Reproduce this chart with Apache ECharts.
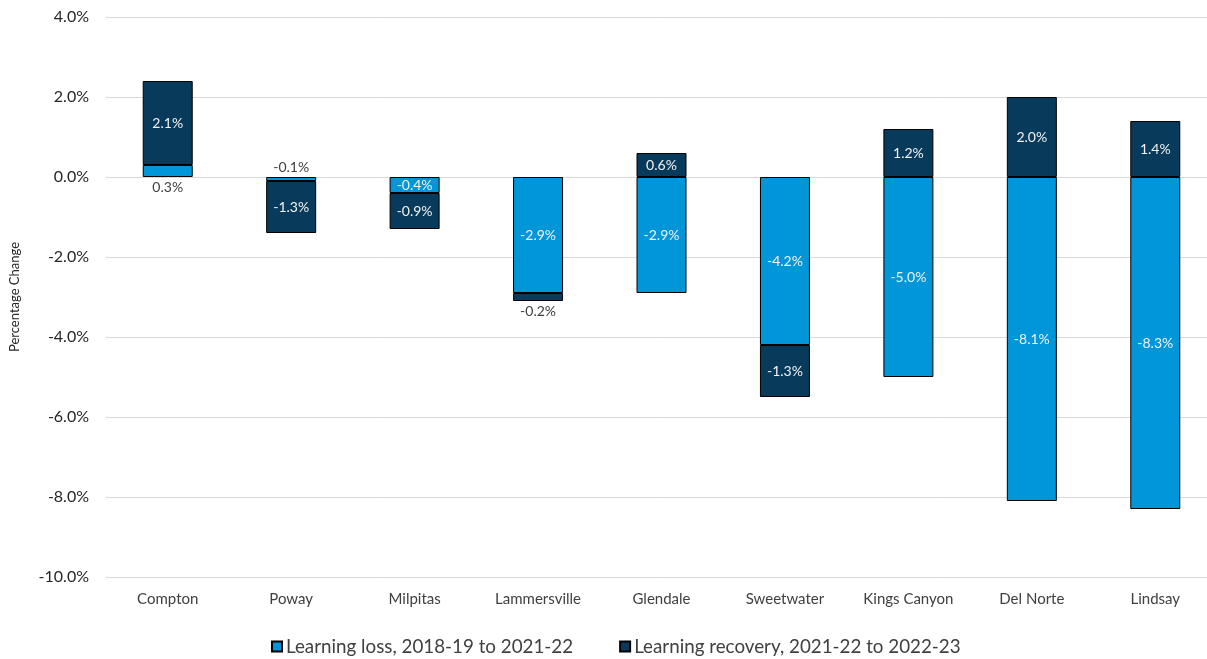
<!DOCTYPE html>
<html>
<head>
<meta charset="utf-8">
<script src="https://cdn.jsdelivr.net/npm/echarts@6/dist/echarts.min.js"></script>
<style>
  html, body { margin: 0; padding: 0; background: #ffffff; overflow: hidden; }
  #chart { width: 1217px; height: 659px; }
</style>
</head>
<body>
<div id="chart"></div>
<script>
// School districts shown along the x axis
const districts = ['Compton', 'Poway', 'Milpitas', 'Lammersville', 'Glendale', 'Sweetwater', 'Kings Canyon', 'Del Norte', 'Lindsay'];

// Percentage-point change in each period
const learningLoss = [0.3, -0.1, -0.4, -2.9, -2.9, -4.2, -5.0, -8.1, -8.3];
const learningRecovery = [2.1, -1.3, -0.9, -0.2, 0.6, -1.3, 1.2, 2.0, 1.4];

const seriesNames = ['Learning loss, 2018-19 to 2021-22', 'Learning recovery, 2021-22 to 2022-23'];

const FONT = 'Lato, "Open Sans", sans-serif';
const LIGHT = '#0096D7';
const DARK = '#083A5B';

// Thin segments whose labels sit outside the bar
const outsideLoss = { 0: 'bottom', 1: 'top' };
const outsideRecovery = { 3: 'bottom' };

const pct = v => v.toFixed(1) + '%';

function buildData(values, outside) {
  return values.map((v, i) => {
    if (outside[i]) {
      return {
        value: v,
        label: { position: outside[i], color: '#404040', distance: 3 }
      };
    }
    return v;
  });
}

const chart = echarts.init(document.getElementById('chart'), null, { renderer: 'canvas' });

chart.setOption({
  animation: false,
  textStyle: { fontFamily: FONT },
  grid: { left: 105, right: 0, top: 17, bottom: 82, containLabel: false },
  legend: {
    left: 266,
    top: 632,
    itemWidth: 10,
    itemHeight: 10,
    itemGap: 46,
    icon: 'rect',
    textStyle: { fontFamily: FONT, fontSize: 18.8, color: '#404040', padding: [0, 0, 0, -1] },
    data: seriesNames
  },
  xAxis: {
    type: 'category',
    data: districts,
    axisLine: { show: false },
    axisTick: { show: false },
    axisLabel: { fontFamily: FONT, fontSize: 15, color: '#404040', margin: 15 }
  },
  yAxis: {
    type: 'value',
    min: -10,
    max: 4,
    interval: 2,
    name: 'Percentage Change',
    nameLocation: 'middle',
    nameRotate: 90,
    nameGap: 85,
    nameTextStyle: { fontFamily: FONT, fontSize: 13, color: '#262626' },
    axisLine: { show: false },
    axisTick: { show: false },
    axisLabel: { formatter: v => pct(v), fontFamily: FONT, fontSize: 16, color: '#262626', margin: 17 },
    splitLine: { lineStyle: { color: '#d9d9d9', width: 1 } }
  },
  series: [
    {
      name: seriesNames[0],
      type: 'bar',
      stack: 'change',
      barWidth: 50,
      itemStyle: { color: LIGHT, borderColor: '#000000', borderWidth: 1 },
      label: {
        show: true,
        position: 'inside',
        formatter: p => pct(p.value),
        fontFamily: FONT,
        fontSize: 14,
        color: '#f2f2f2'
      },
      data: buildData(learningLoss, outsideLoss)
    },
    {
      name: seriesNames[1],
      type: 'bar',
      stack: 'change',
      barWidth: 50,
      itemStyle: { color: DARK, borderColor: '#000000', borderWidth: 1 },
      label: {
        show: true,
        position: 'inside',
        formatter: p => pct(p.value),
        fontFamily: FONT,
        fontSize: 14,
        color: '#f2f2f2'
      },
      data: buildData(learningRecovery, outsideRecovery)
    }
  ]
});
</script>
</body>
</html>
